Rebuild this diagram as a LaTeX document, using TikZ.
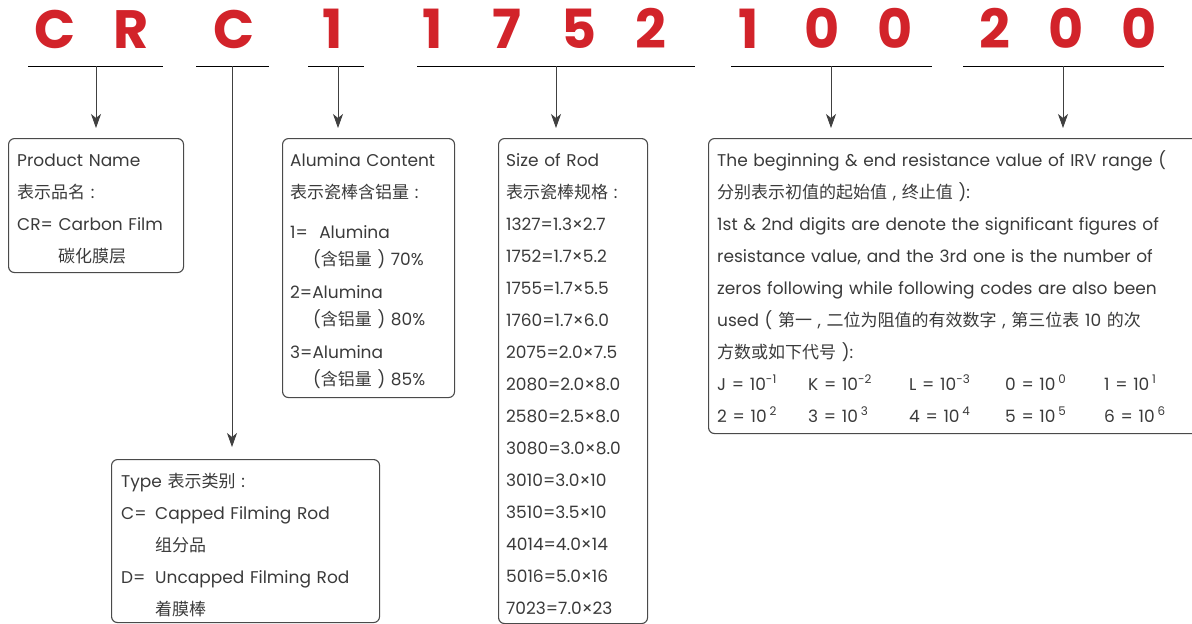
\documentclass[tikz,border=0pt]{standalone}
\usepackage{fontspec}
\setmainfont{Poppins}
\newfontfamily\cjk{Noto Sans CJK SC}
\newfontfamily\codefont{Poppins}
\usetikzlibrary{arrows.meta}

\definecolor{codered}{HTML}{D2232A}
\definecolor{textgray}{HTML}{3A3A3A}
\definecolor{framegray}{HTML}{4A4A4A}
\newcommand{\zh}[1]{{\cjk #1}}

\tikzset{
  infobox/.style={draw=framegray, line width=1.1pt, rounded corners=6pt, anchor=north west, inner sep=0pt},
  lines/.style={anchor=base west, inner sep=0pt, text=textgray, align=left, text width=#1,
    font=\fontsize{17}{32}\selectfont},
  code/.style={anchor=base, inner sep=0pt, text=codered, font=\codefont\bfseries\fontsize{54}{54}\selectfont},
  pointer/.style={draw=black!75, line width=0.8pt, -{Stealth[length=14pt, width=10pt, inset=4pt]}, shorten >=10pt},
  rule/.style={line width=0.8pt}
}

\begin{document}
\begin{tikzpicture}[x=1pt, y=-1pt]
    \useasboundingbox (0,0) rectangle (1192,624);

    % Code letters
    \foreach \ch/\x [count=\i] in {C/55, R/131, C/234, 1/333, 1/433, 7/507, 5/579, 2/651,
        1/749, 0/822, 0/895, 2/995, 0/1066, 0/1139}
        \node[code] (ch\i) at (\x,48) {\ch};

    % Underlines
    \draw[rule] (28,66) -- (163,66);
    \draw[rule] (196,66) -- (269,66);
    \draw[rule] (308,66) -- (364,66);
    \draw[rule] (417,66) -- (695,66);
    \draw[rule] (731,66) -- (932,66);
    \draw[rule] (963,66) -- (1164,66);
    \coordinate (namemid) at (96,66);
    \coordinate (typemid) at (232,66);
    \coordinate (alumid) at (338,66);
    \coordinate (sizemid) at (556,66);
    \coordinate (begmid) at (831,66);
    \coordinate (endmid) at (1063,66);

    % Boxes
    \node[infobox, minimum width=175, minimum height=134] (namebox) at (8,138) {};
    \node[infobox, minimum width=172, minimum height=259] (alubox) at (282,138) {};
    \node[infobox, minimum width=149, minimum height=485] (sizebox) at (498,138) {};
    \node[infobox, minimum width=520, minimum height=295] (irvbox) at (708,138) {};
    \node[infobox, minimum width=268, minimum height=163] (typebox) at (111,459) {};

    % Arrows
    \draw[pointer] (namemid) -- (namemid |- namebox.north);
    \draw[pointer, shorten >=12pt] (typemid) -- (typemid |- typebox.north);
    \draw[pointer] (alumid) -- (alumid |- alubox.north);
    \draw[pointer] (sizemid) -- (sizemid |- sizebox.north);
    \draw[pointer] (begmid) -- (begmid |- irvbox.north);
    \draw[pointer] (endmid) -- (endmid |- irvbox.north);

    % Box texts
    \node[lines=170pt] (nametext) at (17,166) {Product Name\\
        \zh{表示品名} :\\
        CR= Carbon Film\\
        \hspace*{41pt}\zh{碳化膜层}};

    \node[lines=170pt] (alutext) at (290,166) {Alumina Content\\
        \zh{表示瓷棒含铝量} :\\[8pt]
        1=\ \ Alumina\\[-5pt]
        \hspace*{23pt}(\zh{含铝量} ) 70\%\\[1pt]
        2=Alumina\\[-5pt]
        \hspace*{23pt}(\zh{含铝量} ) 80\%\\[1pt]
        3=Alumina\\[-5pt]
        \hspace*{23pt}(\zh{含铝量} ) 85\%};

    \node[lines=150pt] (sizetext) at (506,166) {Size of Rod\\
        \zh{表示瓷棒规格} :\\
        1327=1.3×2.7\\
        1752=1.7×5.2\\
        1755=1.7×5.5\\
        1760=1.7×6.0\\
        2075=2.0×7.5\\
        2080=2.0×8.0\\
        2580=2.5×8.0\\
        3080=3.0×8.0\\
        3010=3.0×10\\
        3510=3.5×10\\
        4014=4.0×14\\
        5016=5.0×16\\
        7023=7.0×23};

    \node[lines=520pt] (irvtext) at (717,166) {The beginning \& end resistance value of IRV range (\\
        \zh{分别表示初值的起始值} , \zh{终止值} ):\\
        1st \& 2nd digits are denote the significant figures of\\
        resistance value, and the 3rd one is the number of\\
        zeros following while following codes are also been\\
        used ( \zh{第一} , \zh{二位为阻值的有效数字} , \zh{第三位表} 10 \zh{的次}\\
        \zh{方数或如下代号} ):\\
        \makebox[91pt][l]{J = 10\textsuperscript{-1}}\makebox[101pt][l]{K = 10\textsuperscript{-2}}%
        \makebox[96pt][l]{L = 10\textsuperscript{-3}}\makebox[99pt][l]{0 = 10\,\textsuperscript{0}}%
        1 = 10\,\textsuperscript{1}\\
        \makebox[91pt][l]{2 = 10\,\textsuperscript{2}}\makebox[101pt][l]{3 = 10\,\textsuperscript{3}}%
        \makebox[96pt][l]{4 = 10\,\textsuperscript{4}}\makebox[99pt][l]{5 = 10\,\textsuperscript{5}}%
        6 = 10\,\textsuperscript{6}};

    \node[lines=260pt] (typetext) at (121,487) {Type \zh{表示类别} :\\
        \makebox[34pt][l]{C=}Capped Filming Rod\\
        \hspace*{34pt}\zh{组分品}\\
        \makebox[34pt][l]{D=}Uncapped Filming Rod\\
        \hspace*{34pt}\zh{着膜棒}};
\end{tikzpicture}
\end{document}
